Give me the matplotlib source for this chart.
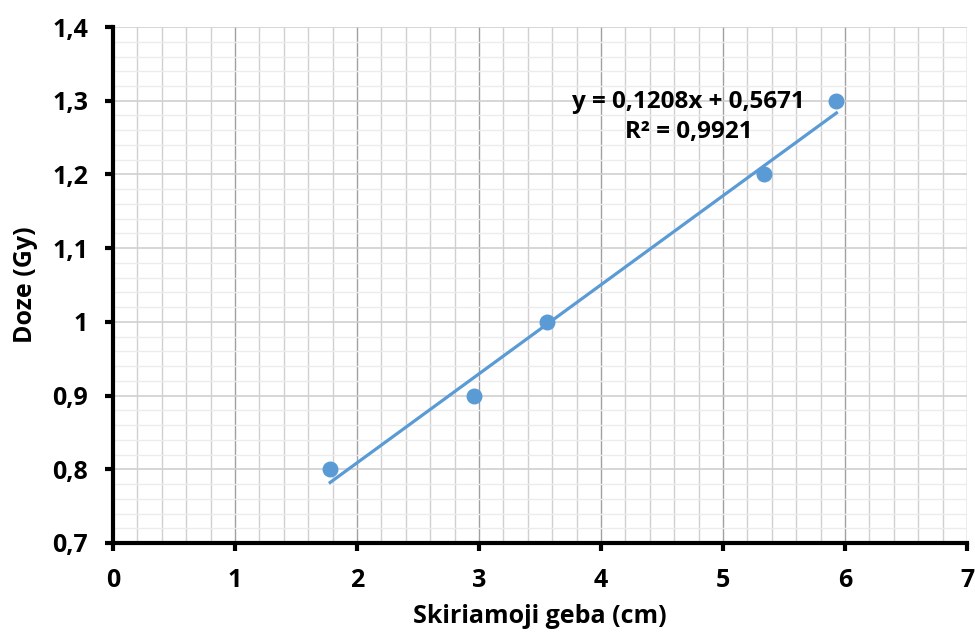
import matplotlib
matplotlib.use("Agg")
import matplotlib.pyplot as plt
import numpy as np
from matplotlib.ticker import MultipleLocator, FuncFormatter

# Measured data
resolution_cm = [1.78, 2.96, 3.56, 5.34, 5.93]
dose_gy = [0.8, 0.9, 1.0, 1.2, 1.3]
slope = 0.1208
intercept = 0.5671
r_squared = 0.9921

plt.rcParams['font.family'] = ['Open Sans', 'DejaVu Sans']
plt.rcParams['font.weight'] = 'bold'

blue = '#5B9BD5'

fig = plt.figure(figsize=(9.75, 6.33), dpi=100)
ax = fig.add_axes([0.1159, 0.1422, 0.8759, 0.8151])

ax.set_xlim(0, 7)
ax.set_ylim(0.7, 1.4)

ax.xaxis.set_major_locator(MultipleLocator(1))
ax.xaxis.set_minor_locator(MultipleLocator(0.2))
ax.yaxis.set_major_locator(MultipleLocator(0.1))
ax.yaxis.set_minor_locator(MultipleLocator(0.02))

ax.grid(which='minor', axis='x', color='#d0d0d0', linewidth=1.0)
ax.grid(which='major', axis='x', color='#a0a0a0', linewidth=1.0)
ax.grid(which='minor', axis='y', color='#ececec', linewidth=1.0)
ax.grid(which='major', axis='y', color='#d0d0d0', linewidth=1.2)
ax.set_axisbelow(True)

for side in ('top', 'right'):
    ax.spines[side].set_visible(False)
for side in ('left', 'bottom'):
    ax.spines[side].set_linewidth(3)

ax.tick_params(which='major', direction='out', length=6, width=3, labelsize=18)
ax.tick_params(axis='x', which='major', pad=12)
ax.tick_params(axis='y', which='major', pad=12)
ax.tick_params(which='minor', length=0)

ax.xaxis.set_major_formatter(FuncFormatter(lambda v, p: f"{v:g}".replace('.', ',')))
ax.yaxis.set_major_formatter(FuncFormatter(lambda v, p: f"{round(v, 1):g}".replace('.', ',')))

# trendline
xs = np.array([min(resolution_cm), max(resolution_cm)])
ax.plot(xs, slope * xs + intercept, color=blue, linewidth=2.3, zorder=3, clip_on=False)
ax.scatter(resolution_cm, dose_gy, s=110, color=blue, zorder=4, clip_on=False)

ax.text(4.72, 1.278, f"y = {slope:.4f}x + {intercept:.4f}".replace('.', ',') + "\n" +
        f"R² = {r_squared:.4f}".replace('.', ','),
        ha='center', va='center', fontsize=17.5, fontweight='bold', linespacing=1.3)

ax.set_xlabel("Skiriamoji geba (cm)", fontsize=18, fontweight='bold', labelpad=8)
ax.set_ylabel("Doze (Gy)", fontsize=18, fontweight='bold', labelpad=10)

fig.savefig("out.png", dpi=100)
